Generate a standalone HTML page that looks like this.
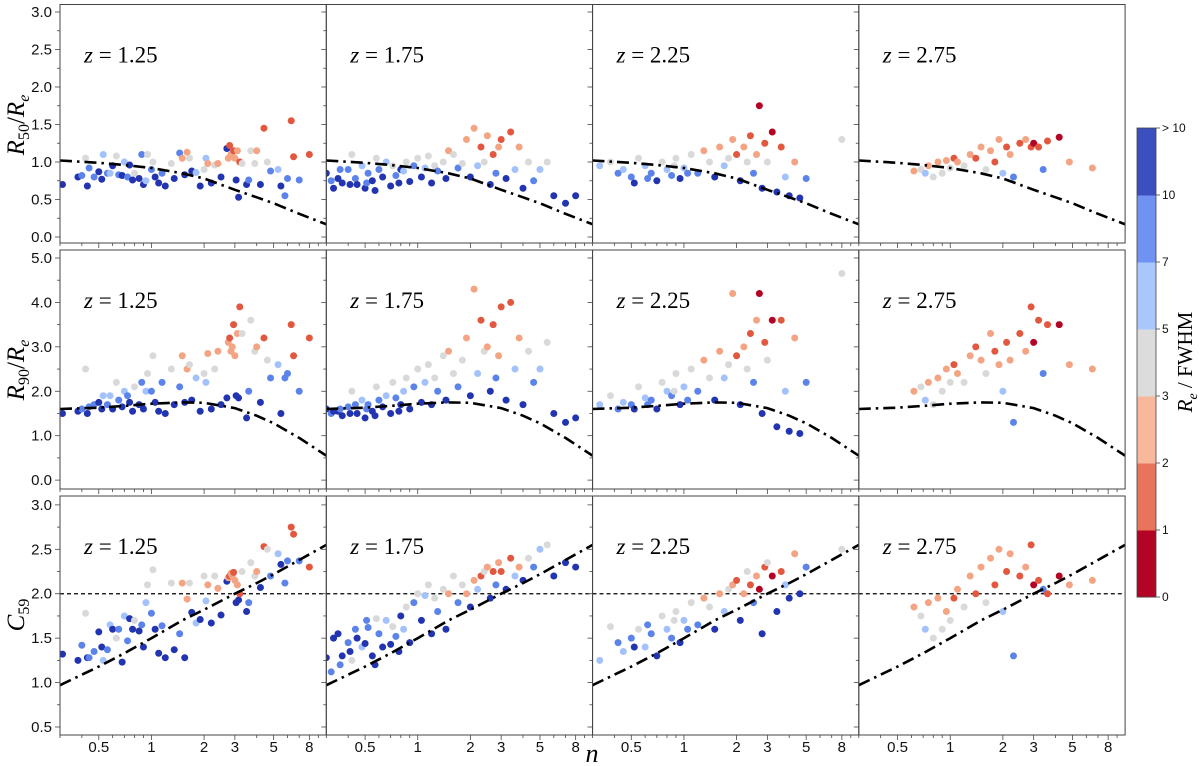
<!DOCTYPE html>
<html><head><meta charset="utf-8"><style>
html,body{margin:0;padding:0;background:#fff;}
svg{display:block;font-family:"Liberation Sans",sans-serif;}
</style></head><body>
<svg id="chart" width="1200" height="766" viewBox="0 0 1200 766"></svg>
<script>
const redshifts = ["1.25","1.75","2.25","2.75"];
const curveN = [0.3,0.5,0.7,1,1.5,2,3,4,5,7,10];
const curveR50 = [1.02,0.99,0.96,0.92,0.85,0.78,0.63,0.53,0.45,0.31,0.17];
const curveR90 = [1.6,1.63,1.67,1.72,1.75,1.74,1.62,1.45,1.28,0.95,0.55];
const curveC59 = [0.97,1.18,1.33,1.5,1.7,1.82,2.0,2.12,2.22,2.38,2.55];
const cbarColors = ["#b40426","#e7745b","#f7b89c","#dddcdc","#aac7fd","#6f92f3","#3c4fbe"];
const cbarTicks = ["0","1","2","3","5","7","10","> 10"];
const xTickVals = [0.5,1,2,3,5,8];
const xTickLabels = ["0.5","1","2","3","5","8"];
const dotColors = ["#b40426","#e2583f","#f4a483","#d9d9d9","#a3c2fb","#5b83ea","#2234b0"];
// galaxies per column: [n, colourClass, R50/Re, R90/Re, C59]
const galZ125 = [[0.31,6,0.7,1.5,1.32],[0.38,6,0.8,1.55,1.25],[0.4,5,0.82,1.6,1.42],[0.42,3,1.05,2.5,1.78],[0.43,6,0.68,1.5,1.28],[0.44,5,0.92,1.65,1.28],[0.47,5,0.8,1.7,1.35],[0.5,6,0.87,1.75,1.57],[0.52,6,0.77,1.6,1.4],[0.53,4,1.1,1.9,1.25],[0.56,5,0.85,1.7,1.37],[0.58,4,0.85,1.9,1.65],[0.6,6,0.95,1.6,1.6],[0.63,3,1.08,2.2,1.5],[0.65,5,0.83,1.8,1.6],[0.68,6,0.82,1.65,1.23],[0.7,4,1.0,2.0,1.75],[0.73,5,0.8,1.9,1.47],[0.75,6,0.96,1.75,1.72],[0.78,6,0.76,1.55,1.6],[0.8,3,0.85,2.1,1.7],[0.85,6,0.78,1.7,1.58],[0.88,5,1.1,2.2,1.65],[0.9,6,0.7,1.6,1.4],[0.93,4,0.75,2.0,1.9],[0.95,3,1.1,2.4,2.1],[1.0,5,0.9,2.0,1.78],[1.02,3,1.0,2.8,2.27],[1.05,6,0.8,1.75,1.6],[1.1,6,0.72,1.55,1.33],[1.15,5,0.85,2.2,1.64],[1.2,6,0.68,1.5,1.28],[1.3,3,0.98,2.5,2.12],[1.35,6,0.78,1.7,1.37],[1.45,5,1.12,2.1,1.55],[1.5,2,1.05,2.8,2.12],[1.55,6,0.83,1.75,1.28],[1.6,2,1.13,2.5,1.94],[1.65,3,1.05,2.6,2.12],[1.7,6,0.88,1.8,1.79],[1.8,4,0.86,2.3,1.67],[1.9,6,0.68,1.55,1.71],[2.0,3,0.9,2.4,2.2],[2.05,4,1.05,2.2,1.92],[2.1,2,0.98,2.85,2.1],[2.2,6,0.72,1.6,1.67],[2.3,3,0.96,2.5,2.2],[2.4,2,0.98,2.9,2.06],[2.5,6,0.8,1.7,1.76],[2.7,6,1.18,1.85,2.14],[2.75,2,1.05,3.1,2.18],[2.8,1,1.22,3.2,2.2],[2.85,2,1.1,2.9,2.23],[2.9,2,1.08,3.0,2.2],[2.95,1,1.15,3.5,2.24],[3.0,2,1.05,2.8,2.15],[3.05,6,0.76,1.9,1.9],[3.1,2,1.15,3.3,2.1],[3.15,6,0.53,1.85,1.93],[3.2,1,1.0,3.9,2.0],[3.3,3,0.98,3.3,2.25],[3.5,6,0.7,1.4,1.8],[3.6,5,0.76,2.0,1.9],[3.7,3,1.15,3.6,2.35],[3.9,3,0.98,2.9,2.2],[4.0,2,1.15,3.0,2.25],[4.2,6,0.7,1.75,2.07],[4.4,1,1.45,3.2,2.53],[4.6,3,1.0,2.7,2.5],[4.8,5,0.88,2.3,2.2],[5.3,4,0.9,2.6,2.45],[5.5,6,0.68,1.5,2.33],[5.8,5,0.55,2.3,2.12],[6.0,5,0.78,2.4,2.37],[6.3,1,1.55,3.5,2.75],[6.5,1,1.07,2.8,2.67],[7.0,5,0.76,2.0,2.37],[8.0,1,1.1,3.2,2.3]];
const galZ175 = [[0.3,6,0.85,1.6,1.28],[0.32,5,0.75,1.5,1.12],[0.33,6,0.65,1.55,1.5],[0.35,6,0.78,1.55,1.55],[0.36,5,0.9,1.6,1.2],[0.37,6,0.72,1.45,1.3],[0.4,5,0.9,1.65,1.45],[0.41,6,0.7,1.5,1.35],[0.42,3,1.1,2.0,1.25],[0.44,5,0.78,1.7,1.6],[0.45,6,0.7,1.5,1.5],[0.48,4,0.95,1.8,1.4],[0.5,6,0.65,1.4,1.44],[0.51,5,0.72,1.6,1.7],[0.52,5,0.85,1.7,1.62],[0.55,6,0.75,1.55,1.3],[0.57,6,0.62,1.45,1.2],[0.58,3,1.05,2.1,1.72],[0.6,5,0.9,1.8,1.55],[0.63,6,0.8,1.65,1.4],[0.66,4,1.0,1.9,1.7],[0.7,6,0.68,1.5,1.43],[0.72,3,0.95,2.2,1.63],[0.75,5,0.82,1.85,1.52],[0.78,6,0.72,1.55,1.35],[0.8,6,0.9,1.7,1.75],[0.83,4,0.88,2.0,1.6],[0.86,3,1.0,2.3,1.85],[0.9,6,0.74,1.6,1.45],[0.95,5,0.95,2.1,1.9],[1.0,3,1.05,2.5,2.0],[1.05,6,0.8,1.75,1.7],[1.1,4,0.92,2.2,1.98],[1.15,3,1.08,2.6,2.1],[1.2,6,0.72,1.7,1.55],[1.25,3,0.95,2.3,1.95],[1.3,5,0.88,2.0,1.8],[1.4,3,1.0,2.8,2.05],[1.45,6,0.78,1.8,1.6],[1.5,2,1.15,2.9,2.0],[1.6,3,1.1,2.4,2.2],[1.7,5,0.92,2.1,1.9],[1.8,3,0.98,2.7,2.1],[1.9,2,1.3,3.2,2.0],[2.0,6,0.8,1.9,1.85],[2.1,2,1.45,4.3,2.15],[2.2,4,0.95,2.4,2.05],[2.3,1,1.2,3.6,2.2],[2.4,3,1.0,2.9,2.25],[2.5,2,1.35,3.0,2.3],[2.6,6,0.7,2.0,1.95],[2.7,1,1.1,3.5,2.25],[2.8,5,0.85,2.3,2.1],[2.9,2,1.2,2.8,2.35],[3.0,1,1.3,3.9,2.25],[3.2,6,0.78,1.8,2.05],[3.4,1,1.4,4.0,2.4],[3.6,4,0.9,2.5,2.2],[3.8,2,1.2,3.2,2.3],[4.0,6,0.65,1.7,2.15],[4.3,3,1.0,2.9,2.4],[4.6,5,0.75,2.2,2.3],[5.0,4,0.9,2.5,2.5],[5.5,3,1.0,3.1,2.55],[6.0,6,0.55,1.5,2.2],[7.0,6,0.45,1.3,2.35],[8.0,6,0.55,1.4,2.3]];
const galZ225 = [[0.33,4,0.95,1.7,1.25],[0.38,3,1.0,1.9,1.63],[0.42,5,0.85,1.6,1.45],[0.45,4,0.9,1.75,1.35],[0.5,5,0.8,1.7,1.5],[0.52,6,0.72,1.6,1.4],[0.55,3,1.05,2.1,1.6],[0.6,4,0.95,1.85,1.4],[0.62,5,0.78,1.7,1.65],[0.65,5,0.85,1.8,1.55],[0.7,6,0.75,1.6,1.3],[0.75,3,1.0,2.2,1.75],[0.8,4,0.9,2.0,1.6],[0.85,5,0.82,1.9,1.5],[0.88,3,0.95,2.0,1.7],[0.9,3,1.05,2.4,1.8],[0.95,6,0.78,1.7,1.45],[1.0,4,0.92,2.1,1.7],[1.05,5,0.85,1.8,1.6],[1.1,3,1.1,2.5,1.9],[1.2,5,0.85,2.0,1.65],[1.3,2,1.15,2.7,1.95],[1.4,3,1.0,2.3,1.85],[1.5,6,0.8,1.8,1.6],[1.6,2,1.2,2.9,2.0],[1.7,4,0.95,2.3,1.8],[1.8,3,1.05,2.6,2.05],[1.9,2,1.3,4.2,2.1],[2.0,1,1.1,2.8,2.15],[2.1,6,0.75,1.7,1.7],[2.2,2,1.2,3.0,2.0],[2.3,3,1.0,2.5,2.25],[2.4,1,1.35,3.3,2.1],[2.5,5,0.85,2.2,1.9],[2.6,2,1.1,3.6,2.2],[2.7,0,1.75,4.2,2.05],[2.8,6,0.65,1.5,1.55],[2.9,1,1.25,3.1,2.3],[3.0,3,1.0,2.7,2.35],[3.2,0,1.4,3.6,2.2],[3.4,6,0.6,1.2,1.8],[3.6,1,1.2,3.6,2.25],[3.8,4,0.8,2.0,2.1],[4.0,6,0.55,1.1,1.95],[4.3,2,1.0,3.2,2.45],[4.6,6,0.52,1.05,2.0],[5.0,5,0.78,2.2,2.3],[8.0,3,1.3,4.65,2.5]];
const galZ275 = [[0.62,2,0.88,2.0,1.85],[0.68,3,0.9,2.1,1.75],[0.72,4,0.85,1.8,1.6],[0.75,2,0.95,2.2,1.9],[0.8,3,0.8,1.7,1.5],[0.85,2,1.0,2.3,1.95],[0.9,3,0.85,2.0,1.6],[0.95,2,1.02,2.5,1.8],[1.0,3,0.92,2.2,1.7],[1.05,1,1.05,2.6,1.95],[1.1,2,1.0,2.4,2.05],[1.2,3,0.95,2.2,1.85],[1.3,2,1.1,2.8,2.2],[1.4,1,1.05,3.0,2.0],[1.5,2,1.2,2.7,2.3],[1.6,3,0.9,2.4,1.9],[1.7,2,1.15,3.3,2.4],[1.8,1,1.0,2.9,2.1],[1.9,2,1.3,2.6,2.5],[2.0,4,0.85,2.0,1.8],[2.1,1,1.2,3.1,2.25],[2.2,2,1.1,2.7,2.45],[2.3,5,0.8,1.3,1.3],[2.5,1,1.25,3.3,2.2],[2.7,2,1.3,2.9,2.3],[2.9,1,1.2,3.9,2.55],[3.0,0,1.25,3.1,2.1],[3.2,1,1.2,3.6,2.15],[3.4,5,0.9,2.4,2.05],[3.6,1,1.28,3.5,2.0],[4.2,0,1.33,3.5,2.2],[4.8,2,1.0,2.6,2.1],[6.5,2,0.92,2.5,2.15]];
const columns = [galZ125,galZ175,galZ225,galZ275];
const curves = [curveR50,curveR90,curveC59];
const ylims = [[-0.08,3.1],[-0.2,5.18],[0.41,3.1]];
const yMajor = [[0,0.5,1,1.5,2,2.5,3],[0,1,2,3,4,5],[0.5,1,1.5,2,2.5,3]];
const yLabelsFmt = v=>v.toFixed(1);

const NS="http://www.w3.org/2000/svg";
const svg=document.getElementById('chart');
function mk(tag,attrs,parent){const e=document.createElementNS(NS,tag);for(const k in attrs)e.setAttribute(k,attrs[k]);(parent||svg).appendChild(e);return e;}
const colX=[60,326.3,592.5,858.8], panelW=266.3;
const rowY=[[4.5,243],[250,489],[496,735]];
const xmin=0.3,xmax=10;
function xs(col,n){return colX[col]+(Math.log10(n)-Math.log10(xmin))/(Math.log10(xmax)-Math.log10(xmin))*panelW;}
function ys(row,v){const [t,b]=rowY[row];const [lo,hi]=ylims[row];return b-(v-lo)/(hi-lo)*(b-t);}

for(let r=0;r<3;r++){
  for(let c=0;c<4;c++){
    const g=mk('g',{});
    
    
    const cid='clip'+r+c;
    const cp=mk('clipPath',{id:cid},g);mk('rect',{x:colX[c],y:rowY[r][0],width:panelW,height:rowY[r][1]-rowY[r][0]},cp);
    const inner=mk('g',{'clip-path':'url(#'+cid+')'},g);
    if(r===2){const hl=mk('line',{x1:colX[c],x2:colX[c]+panelW,y1:ys(r,2),y2:ys(r,2),stroke:'#000','stroke-width':1.2,'stroke-dasharray':'4,3'},inner);
      }
    const gal=columns[c];
    gal.forEach(p=>{const v=p[2+r];
      const d=mk('circle',{cx:xs(c,p[0]),cy:ys(r,v),r:3.5,fill:dotColors[p[1]]},inner);
      });
    const cv=curves[r];
    const pts=curveN.map((n,i)=>xs(c,n).toFixed(1)+','+ys(r,cv[i]).toFixed(1)).join(' ');
    const pl=mk('polyline',{points:pts,fill:'none',stroke:'#000','stroke-width':2.6,'stroke-dasharray':'12,5,2.5,5'},inner);
    
    const fr=mk('rect',{x:colX[c],y:rowY[r][0],width:panelW,height:rowY[r][1]-rowY[r][0],fill:'none',stroke:'#444','stroke-width':1},g);
    
    const zt=mk('text',{x:colX[c]+24,y:rowY[r][0]+58,'font-family':'Liberation Serif, serif','font-size':23},g);
    zt.innerHTML='<tspan font-style="italic">z</tspan> = '+redshifts[c];
    
    for(let d=-1;d<=0;d++)for(let m=1;m<=9;m++){const n=m*Math.pow(10,d);if(n<xmin||n>xmax)continue;
      const X=xs(c,n);const major=xTickVals.includes(n);
      mk('line',{x1:X,x2:X,y1:rowY[r][1],y2:rowY[r][1]+(major?5:3),stroke:'#444','stroke-width':0.8},g);}
    if(r===2){xTickVals.forEach((n,i)=>{const t=mk('text',{x:xs(c,n),y:752,'font-size':15,'text-anchor':'middle',fill:'#111'},g);t.textContent=xTickLabels[i];
      });}
    const maj=yMajor[r];const step=maj[1]-maj[0];
    for(let v=maj[0]-step;v<=ylims[r][1];v+=step/2){if(v<ylims[r][0])continue;
      const Y=ys(r,v);const isMaj=Math.abs((v-maj[0])/step-Math.round((v-maj[0])/step))<1e-6;
      mk('line',{x1:colX[c],x2:colX[c]-(isMaj?5:3),y1:Y,y2:Y,stroke:'#444','stroke-width':0.8},g);
      if(c===0&&isMaj){const t=mk('text',{x:colX[c]-8,y:Y+5,'font-size':15,'text-anchor':'end',fill:'#111'},g);t.textContent=yLabelsFmt(v);
        }}
  }
}
const yt=[['R','50',125],['R','90',370],['C','59',615]];
yt.forEach((a,i)=>{const t=mk('text',{x:0,y:0,transform:'translate(24,'+a[2]+') rotate(-90)','font-family':'Liberation Serif, serif','font-size':25,'text-anchor':'middle'});
  if(i<2)t.innerHTML='<tspan font-style="italic">R</tspan><tspan font-size="16" dy="5">'+a[1]+'</tspan><tspan dy="-5">/</tspan><tspan font-style="italic">R</tspan><tspan font-size="16" font-style="italic" dy="5">e</tspan>';
  else t.innerHTML='<tspan font-style="italic">C</tspan><tspan font-size="16" dy="5">59</tspan>';
  });
const xt=mk('text',{x:592,y:762,'font-family':'Liberation Serif, serif','font-size':26,'font-style':'italic','text-anchor':'middle'});xt.textContent='n';

const cb=mk('g',{});
const cbT=128,cbB=597,cbX=1137,cbW=19,seg=(cbB-cbT)/cbarColors.length;
cbarColors.forEach((col,i)=>{const s=mk('rect',{x:cbX,y:cbB-(i+1)*seg,width:cbW,height:seg+0.5,fill:col},cb);
  });
mk('rect',{x:cbX,y:cbT,width:cbW,height:cbB-cbT,fill:'none',stroke:'#444','stroke-width':0.8},cb);
cbarTicks.forEach((lab,i)=>{const Y=cbB-i*seg;mk('line',{x1:cbX+cbW,x2:cbX+cbW+4,y1:Y,y2:Y,stroke:'#444','stroke-width':0.8},cb);
  const t=mk('text',{x:cbX+cbW+6,y:Y+4,'font-size':12,fill:'#111'},cb);t.textContent=lab;
  });
const cl=mk('text',{x:0,y:0,transform:'translate(1192,362) rotate(-90)','font-family':'Liberation Serif, serif','font-size':21,'text-anchor':'middle'},cb);
cl.innerHTML='<tspan font-style="italic">R</tspan><tspan font-size="14" font-style="italic" dy="5">e</tspan><tspan dy="-5"> / FWHM</tspan>';

</script>
</body></html>
